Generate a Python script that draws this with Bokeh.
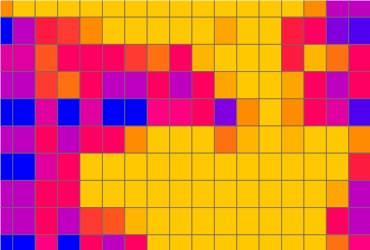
from bokeh.plotting import figure
from bokeh.models import ColumnDataSource, LinearColorMapper, Range1d
from bokeh.embed import file_html
from bokeh.resources import INLINE

# Heatmap levels (0 = blue ... 14 = yellow), rows top to bottom, 17 columns
row0 = [11, 14, 14, 14, 14, 14, 14, 14, 14, 14, 14, 14, 14, 14, 11, 3, 3]
row1 = [0, 3, 7, 8, 11, 14, 14, 14, 14, 14, 12, 14, 14, 7, 6, 2, 1]
row2 = [4, 4, 9, 6, 6, 6, 8, 10, 6, 13, 14, 14, 14, 7, 13, 10, 6]
row3 = [3, 3, 8, 10, 6, 3, 3, 6, 3, 6, 12, 14, 14, 12, 6, 3, 6]
row4 = [0, 0, 4, 0, 4, 0, 0, 5, 5, 6, 2, 11, 14, 11, 6, 4, 1]
row5 = [3, 3, 6, 3, 6, 6, 11, 14, 14, 14, 10, 13, 14, 13, 14, 14, 11]
row6 = [0, 0, 4, 6, 14, 14, 14, 14, 14, 14, 14, 14, 14, 14, 14, 14, 7]
row7 = [3, 3, 6, 6, 14, 14, 14, 14, 14, 14, 14, 14, 14, 14, 14, 12, 3]
row8 = [3, 3, 6, 3, 8, 9, 13, 14, 14, 14, 14, 14, 14, 14, 14, 6, 3]
row9 = [0, 0, 5, 0, 6, 3, 6, 14, 14, 14, 14, 14, 14, 14, 14, 10, 5]
rows = [row0, row1, row2, row3, row4, row5, row6, row7, row8, row9]

palette = ["#0000ff", "#5000f0", "#8000e0", "#c000c0", "#e000a0",
           "#ff0080", "#ff0060", "#ff1a40", "#ff3a30", "#ff5520",
           "#ff7010", "#ff8c00", "#ffa500", "#ffb400", "#ffc800"]

xs, ys, vs = [], [], []
for r, row in enumerate(rows):
    for c, v in enumerate(row):
        xs.append(c + 0.5)
        ys.append(r + 0.5)
        vs.append(v)

src = ColumnDataSource(dict(x=xs, y=ys, v=vs))
mapper = LinearColorMapper(palette=palette, low=-0.5, high=14.5)

p = figure(width=370, height=250, output_backend="svg", toolbar_location=None,
           x_range=Range1d(0.45, 16.97), y_range=Range1d(9.577, 0.386),
           min_border=0, min_border_left=0, min_border_right=0,
           min_border_top=0, min_border_bottom=0)
p.axis.visible = False
p.grid.visible = False
p.outline_line_color = None
p.background_fill_color = "#ffffff"

p.rect(x="x", y="y", width=1, height=1, source=src,
       fill_color={"field": "v", "transform": mapper},
       line_color="#666666", line_alpha=0.7, line_width=1)

open("out.html", "w").write(file_html(p, INLINE))
